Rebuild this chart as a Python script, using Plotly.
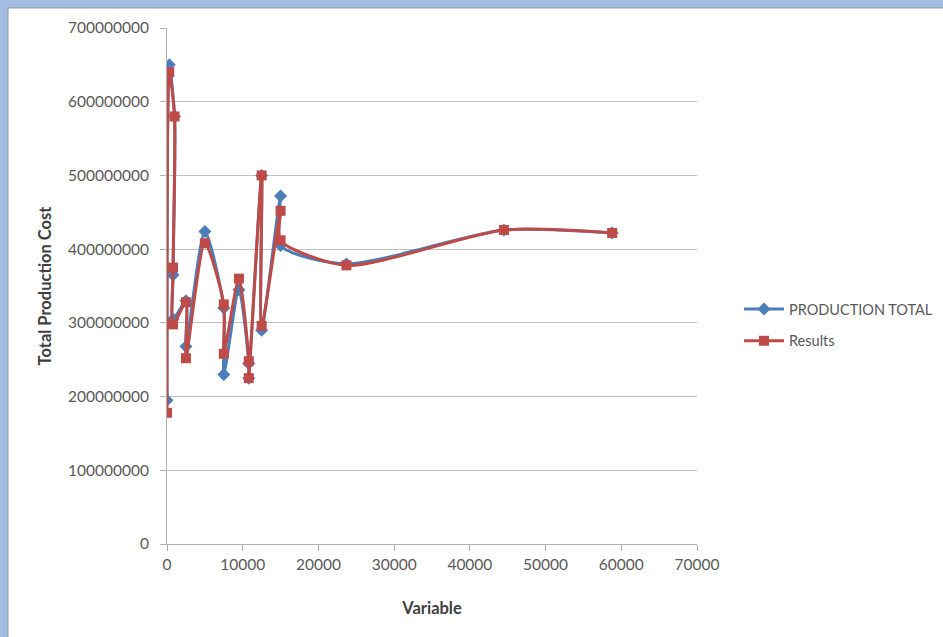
import plotly.graph_objects as go

# Data (in drawing order)
variable = [0, 300, 1000, 800, 800, 2500, 2500, 5000, 7500, 7500, 9500,
            10800, 10800, 12500, 12500, 15000, 15000, 23700, 44500, 58800]
production_total = [195e6, 650e6, 580e6, 365e6, 305e6, 330e6, 268e6, 424e6, 320e6, 230e6, 345e6,
                    245e6, 225e6, 500e6, 290e6, 472e6, 405e6, 380e6, 426e6, 422e6]
results = [178e6, 640e6, 580e6, 375e6, 298e6, 328e6, 252e6, 408e6, 325e6, 258e6, 360e6,
           248e6, 225e6, 500e6, 296e6, 452e6, 412e6, 378e6, 426e6, 422e6]

series_names = ["PRODUCTION TOTAL", "Results"]
x_title = "Variable"
y_title = "Total Production Cost"

BLUE = "#4a7ebb"
RED = "#be4b48"
FONT = "Lato"
GRID = "#c0c0c0"
TXT = "#595959"
SMOOTH = 0.7

fig = go.Figure()
fig.add_trace(go.Scatter(
    x=variable, y=production_total, name=series_names[0], mode="lines+markers",
    legendgroup="a",
    line=dict(color=BLUE, width=3, shape="spline", smoothing=SMOOTH),
    marker=dict(symbol="diamond", size=10, color=BLUE),
))
fig.add_trace(go.Scatter(
    x=variable, y=results, name=series_names[1], mode="lines+markers",
    legendgroup="b",
    line=dict(color=RED, width=3, shape="spline", smoothing=SMOOTH),
    marker=dict(symbol="square", size=10, color=RED),
))

# plot area in pixels: x 167..697, y 28..544
L, R, T, B = 167, 943 - 697, 28, 637 - 544
W, H = 943, 637
pw, ph = W - L - R, H - T - B

def px_x(p):
    return (p - L) / pw

def px_y(p):
    return (H - B - p) / ph

fig.update_layout(
    width=W, height=H,
    margin=dict(l=L, r=R, t=T, b=B, pad=0, autoexpand=False),
    paper_bgcolor="#a3bde2",
    plot_bgcolor="rgba(0,0,0,0)",
    font=dict(family=FONT, size=15, color=TXT),
    showlegend=True,
    legend=dict(x=px_x(739), y=px_y(325), xanchor="left", yanchor="middle",
                font=dict(family=FONT, size=14.5, color=TXT), itemwidth=40,
                bgcolor="rgba(0,0,0,0)", tracegroupgap=10),
    shapes=[dict(type="rect", xref="paper", yref="paper", layer="below",
                 x0=px_x(8), x1=px_x(960), y0=px_y(660), y1=px_y(8),
                 fillcolor="white", line=dict(color="#8f99a8", width=1))],
)
fig.update_xaxes(
    range=[0, 70000], dtick=10000, tickformat="d",
    showgrid=False, showline=True, linecolor="#b0b0b0", linewidth=1,
    ticks="outside", ticklen=6, tickcolor="#b0b0b0", zeroline=False,
    tickfont=dict(family=FONT, size=15.5, color=TXT),
    title=dict(text=f"<b>{x_title}</b>", font=dict(family=FONT, size=16.5, color="#404040"), standoff=30),
)
fig.update_yaxes(
    range=[0, 700e6], dtick=100e6, tickformat="d",
    showgrid=True, gridcolor=GRID, gridwidth=1,
    showline=True, linecolor="#b0b0b0", linewidth=1,
    ticks="outside", ticklen=6, tickcolor="#b0b0b0", zeroline=False,
    ticklabelstandoff=8,
    tickfont=dict(family=FONT, size=15.5, color=TXT),
    title=dict(text=f"<b>{y_title}</b>", font=dict(family=FONT, size=16.5, color="#404040"), standoff=12),
)

fig.write_html("out.html", config={"displayModeBar": False},
               post_script="document.body.style.margin='0';")
